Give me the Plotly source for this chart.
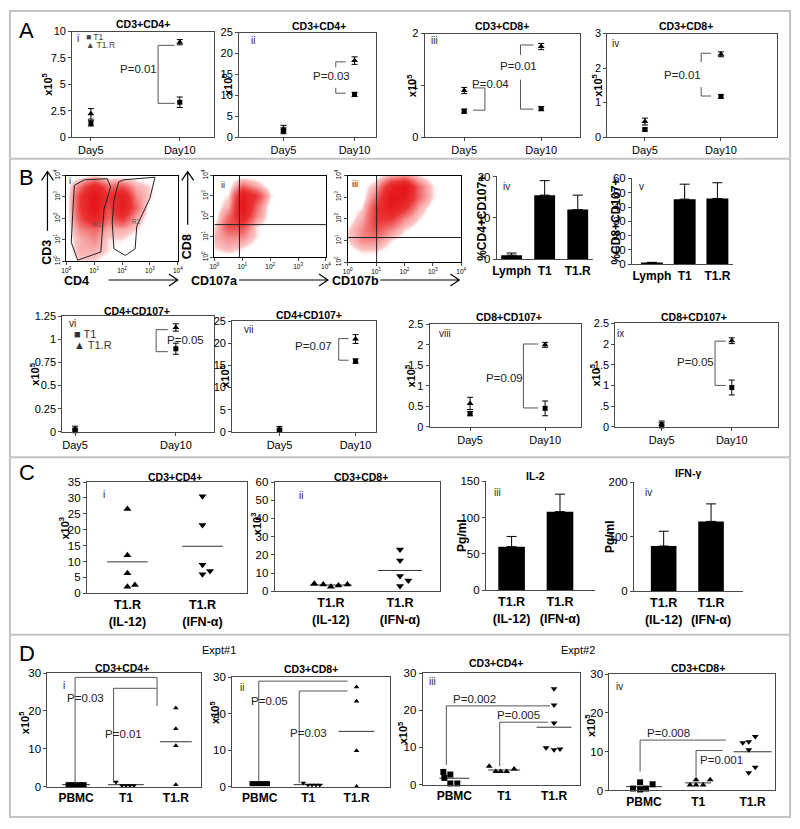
import numpy as np
import plotly.graph_objects as go

W, H = 800, 829
FONT = "Liberation Sans, Arial, Helvetica, sans-serif"
AX = "#4a4a4a"
BR = "#555555"

# ======================= DATA =======================
# ---- Panel A : cell numbers (x10^5), mean and error, Day5 / Day10
day_labels = ["Day5", "Day10"]
A1_T1 = [1.3, 3.3];    A1_T1_err = [0.25, 0.5]
A1_T1R = [2.2, 9.0];   A1_T1R_err = [0.5, 0.25]
A2_T1 = [1.5, 10.2];   A2_T1_err = [0.7, 0.5]
A2_T1R = [2.0, 18.3];  A2_T1R_err = [0.8, 0.9]
A3_T1 = [0.50, 0.55];  A3_T1_err = [0.04, 0.04]
A3_T1R = [0.90, 1.75]; A3_T1R_err = [0.06, 0.06]
A4_T1 = [0.22, 1.18];  A4_T1_err = [0.04, 0.05]
A4_T1R = [0.45, 2.40]; A4_T1R_err = [0.10, 0.07]

# ---- Panel B : flow cytometry (coarse density, log10 scale)
flow_log_bins = [0, 0.5, 1, 1.5, 2, 2.5, 3, 3.5, 4]
flow_i_density = [
    [0, 1, 1, 0, 0, 0, 0, 0, 0],
    [0, 2, 2, 1, 0, 0, 0, 0, 0],
    [0, 2, 3, 1, 1, 0, 0, 0, 0],
    [0, 3, 4, 2, 2, 1, 0, 0, 0],
    [0, 5, 8, 4, 6, 2, 0, 0, 0],
    [0, 6, 10, 5, 9, 4, 0, 0, 0],
    [0, 6, 10, 6, 9, 3, 1, 0, 0],
    [0, 4, 8, 4, 5, 2, 1, 0, 0],
    [0, 0, 1, 0, 0, 0, 0, 0, 0],
]
flow_ii_density = [
    [0, 0, 0, 0, 0, 0, 0, 0, 0],
    [1, 2, 1, 0, 0, 0, 0, 0, 0],
    [2, 3, 3, 1, 0, 0, 0, 0, 0],
    [1, 5, 5, 1, 0, 0, 0, 0, 0],
    [0, 4, 8, 3, 0, 0, 0, 0, 0],
    [0, 2, 10, 4, 0, 0, 0, 0, 0],
    [0, 1, 9, 6, 1, 0, 0, 0, 0],
    [0, 0, 4, 2, 0, 0, 0, 0, 0],
    [0, 0, 0, 0, 0, 0, 0, 0, 0],
]
flow_iii_density = [
    [0, 0, 0, 0, 0, 0, 0, 0, 0],
    [0, 1, 1, 0, 0, 0, 0, 0, 0],
    [1, 3, 3, 1, 0, 0, 0, 0, 0],
    [1, 3, 5, 3, 1, 0, 0, 0, 0],
    [0, 2, 6, 6, 3, 1, 0, 0, 0],
    [0, 1, 6, 9, 6, 2, 0, 0, 0],
    [0, 0, 4, 10, 9, 4, 1, 0, 0],
    [0, 0, 2, 8, 10, 4, 1, 0, 0],
    [0, 0, 0, 2, 3, 1, 0, 0, 0],
]
gate_R1_x = [0.29, 0.65, 1.47, 1.59, 1.35, 1.24, 0.41, 0.18, 0.24, 0.29]
gate_R1_y = [3.54, 3.80, 3.85, 3.47, 2.40, 0.43, 0.05, 0.88, 2.40, 3.54]
gate_R2_x = [1.88, 2.06, 3.18, 3.00, 2.53, 2.47, 2.12, 1.71, 1.65, 1.71, 1.88]
gate_R2_y = [3.70, 3.80, 3.92, 2.94, 1.64, 0.58, 0.27, 0.58, 1.79, 2.86, 3.70]
quad_ii = [0.9, 1.6]
quad_iii = [1.02, 1.14]

# ---- Panel B : % CD107+ bars
bar_groups_B = ["Lymph", "T1", "T1.R"]
B4_CD4 = [1.0, 15.5, 12.0];  B4_CD4_err = [0.5, 3.5, 3.5]
B5_CD8 = [1.0, 45.5, 46.0];  B5_CD8_err = [0.3, 10.5, 11.0]

# ---- Panel B : CD107+ cell numbers (x10^5)
B6_T1 = [0.01, 0.90];  B6_T1_err = [0.03, 0.06]
B6_T1R = [0.03, 1.13]; B6_T1R_err = [0.03, 0.04]
B7_T1 = [0.3, 16.0];   B7_T1_err = [0.5, 0.5]
B7_T1R = [0.6, 21.0];  B7_T1R_err = [0.6, 1.0]
B8_T1 = [0.32, 0.45];  B8_T1_err = [0.05, 0.18]
B8_T1R = [0.57, 2.00]; B8_T1R_err = [0.15, 0.06]
B9_T1 = [0.02, 0.95];  B9_T1_err = [0.08, 0.18]
B9_T1R = [0.06, 2.08]; B9_T1R_err = [0.08, 0.07]

# ---- Panel C
C_groups = ["T1.R<br>(IL-12)", "T1.R<br>(IFN-α)"]
C1_IL12 = [26.5, 12.0, 6.3, 2.1, 2.6]
C1_IFNa = [30.5, 21.5, 9.0, 6.0, 7.0]
C2_IL12 = [4.2, 3.8, 2.5, 3.3, 3.8]
C2_IFNa = [23.0, 17.0, 8.5, 3.0, 6.0]
C3_IL2 = [60, 108];   C3_IL2_err = [14, 24]
C4_IFNg = [83, 128];  C4_IFNg_err = [27, 32]

# ---- Panel D (x10^5)
D_groups = ["PBMC", "T1", "T1.R"]
D1_PBMC = [0.5, 0.5, 0.5, 0.5, 0.5]
D1_T1 = [1.2, 0.3, 0.3, 0.3, 0.3]
D1_T1R = [20.8, 15.3, 10.8, 0.5]
D2_PBMC = [0.8, 0.8, 0.8, 0.8, 0.8]
D2_T1 = [1.0, 0.4, 0.4, 0.4, 0.4]
D2_T1R = [27.3, 23.4, 9.8, 0.0]
D3_PBMC = [3.4, 2.7, 1.8, 0.3, 0.3]
D3_T1 = [4.9, 3.5, 3.5, 3.5, 4.2]
D3_T1R = [25.8, 21.4, 16.6, 9.9, 9.4, 9.6]
D4_PBMC = [2.1, 1.6, 0.5, 0.25, 0.5]
D4_T1 = [2.8, 2.8, 1.4, 1.4, 1.4]
D4_T1R = [12.3, 12.6, 13.9, 10.5, 6.0, 4.6]

# ======================= FIGURE =======================
fig = go.Figure()
LAYOUT = {}
ANN = []
SHAPES = []
_n = [0]


def px(x):
    return x / W


def py(y):
    return 1 - y / H


def make_axes(box, xr, yr, xtv=None, xtt=None, ytv=None, ytt=None, mirror=True,
              xfont=11, yfont=11, xticks="outside", yangle=0, xangle=0, ylen=3):
    _n[0] += 1
    s = "" if _n[0] == 1 else str(_n[0])
    x0, x1, y0, y1 = box
    common = dict(showgrid=False, zeroline=False, showline=True, linecolor=AX,
                  linewidth=1, mirror=mirror, ticks="outside", ticklen=3,
                  tickcolor=AX, tickwidth=1, fixedrange=True, tickmode="array")
    xa = dict(common, domain=[px(x0), px(x1)], range=xr, anchor="y" + s,
              tickvals=xtv, ticktext=xtt, ticks=xticks, tickangle=xangle,
              tickfont=dict(size=xfont, family=FONT, color="black"))
    ya = dict(common, domain=[py(y1), py(y0)], range=yr, anchor="x" + s,
              tickvals=ytv, ticktext=ytt, tickangle=yangle, ticklen=ylen,
              tickfont=dict(size=yfont, family=FONT, color="black"))
    LAYOUT["xaxis" + s] = xa
    LAYOUT["yaxis" + s] = ya
    return "x" + s, "y" + s


def txt(x, y, s, size=11, bold=False, xanchor="center", yanchor="middle",
        angle=0, color="black", xref="paper", yref="paper"):
    if xref == "paper":
        x = px(x)
    if yref == "paper":
        y = py(y)
    if bold:
        s = "<b>" + s + "</b>"
    ANN.append(dict(x=x, y=y, xref=xref, yref=yref, text=s, showarrow=False,
                    xanchor=xanchor, yanchor=yanchor, textangle=angle,
                    font=dict(size=size, family=FONT, color=color)))


def line(xa, ya, xs, ys, color=BR, width=1):
    fig.add_trace(go.Scatter(x=xs, y=ys, mode="lines", xaxis=xa, yaxis=ya,
                             line=dict(color=color, width=width),
                             hoverinfo="skip", showlegend=False, cliponaxis=False))


def pts(xa, ya, xs, ys, symbol, size=6, err=None):
    kw = {}
    if err is not None:
        kw["error_y"] = dict(type="data", array=err, color="black", thickness=1, width=3)
    fig.add_trace(go.Scatter(x=xs, y=ys, mode="markers", xaxis=xa, yaxis=ya,
                             marker=dict(symbol=symbol, size=size, color="black"),
                             hoverinfo="skip", showlegend=False, cliponaxis=False, **kw))


def day_plot(box, xr, yr, ytv, ytt, t1, t1e, t1r, t1re, title, tx, ty, label, lx, ly, ylx):
    xa, ya = make_axes(box, xr, yr, [1, 2], day_labels, ytv, ytt)
    pts(xa, ya, [1, 2], t1r, "triangle-up", 6, t1re)
    pts(xa, ya, [1, 2], t1, "square", 5, t1e)
    txt(tx, ty, title, 10.5, bold=True)
    txt(lx, ly, label, 10, color="#222")
    txt(ylx, (box[2] + box[3]) / 2, "x10<sup>5</sup>", 11, bold=True, angle=-90)
    return xa, ya


def ptext(xa, ya, x, y, s, yanchor="middle", xanchor="center"):
    txt(x, y, s, 11.5, xref=xa, yref=ya, yanchor=yanchor, xanchor=xanchor, color="#222")


def bracket(xa, ya, xv, xe, ytop, ybot):
    line(xa, ya, [xe, xv, xv, xe], [ytop, ytop, ybot, ybot])


# ---------------- Panel A ----------------
txt(22, 25, "A", 22)
xa, ya = day_plot((68, 212, 26, 133), [0.789, 2.389], [0, 10], [0, 2.5, 5, 7.5, 10],
                  ["0", "2.5", "5", "7.5", "10"], A1_T1, A1_T1_err, A1_T1R, A1_T1R_err,
                  "CD3+CD4+", 140, 18, "i", 74, 33, 43)
bracket(xa, ya, 1.756, 1.944, 8.7, 3.2)
ptext(xa, ya, 1.533, 6.5, "P=0.01")
txt(80, 31, "■ T1", 8.5, xanchor="left", color="#444")
txt(80, 40, "▲ T1.R", 8.5, xanchor="left", color="#444")

xa, ya = day_plot((237, 376, 27, 133), [0.375, 2.306], [0, 25], [0, 5, 10, 15, 20, 25],
                  ["0", "5", "10", "15", "20", "25"], A2_T1, A2_T1_err, A2_T1R, A2_T1R_err,
                  "CD3+CD4+", 318, 20, "ii", 251, 35, 225)
line(xa, ya, [1.875, 1.736, 1.736], [18.0, 18.0, 16.7])
line(xa, ya, [1.736, 1.736, 1.875], [11.8, 10.5, 10.5])
ptext(xa, ya, 1.68, 14.7, "P=0.03")

xa, ya = day_plot((425, 582, 28, 133), [0.487, 2.5], [0, 2], [0, 1, 2], ["0", "1", "2"],
                  A3_T1, A3_T1_err, A3_T1R, A3_T1R_err,
                  "CD3+CD8+", 503, 20, "iii", 435, 35, 412)
line(xa, ya, [1.115, 1.269, 1.269, 1.115], [0.95, 0.95, 0.52, 0.52])
ptext(xa, ya, 1.34, 1.02, "P=0.04")
line(xa, ya, [1.897, 1.731, 1.731], [1.78, 1.78, 1.59])
line(xa, ya, [1.731, 1.731, 1.897], [1.11, 0.54, 0.54])
ptext(xa, ya, 1.705, 1.37, "P=0.01")

xa, ya = day_plot((610, 782, 28, 133), [0.506, 2.74], [0, 3], [0, 1, 2, 3], ["0", "1", "2", "3"],
                  A4_T1, A4_T1_err, A4_T1R, A4_T1R_err,
                  "CD3+CD8+", 690, 20, "iv", 618, 38, 600)
line(xa, ya, [1.87, 1.74, 1.74], [2.43, 2.43, 2.17])
line(xa, ya, [1.74, 1.74, 1.87], [1.45, 1.19, 1.19])
ptext(xa, ya, 1.494, 1.79, "P=0.01")

# ---------------- Panel B : flow ----------------
txt(22, 174, "B", 22)
flow_ticks = [0, 1, 2, 3, 4]
flow_tt = ["10<sup>%d</sup>" % k for k in flow_ticks]
FLOW_CS = [[0, "rgba(255,255,255,0)"], [0.05, "rgba(255,255,255,0)"],
           [0.12, "rgba(250,190,190,0.85)"], [0.35, "rgb(242,118,118)"],
           [0.6, "rgb(234,50,50)"], [1, "rgb(228,20,26)"]]


def flow_plot(box, dens, label, lx, ly):
    xa, ya = make_axes(box, [0, 4], [0, 4], flow_ticks, flow_tt, flow_ticks, flow_tt,
                       xfont=6.5, yfont=6.5, yangle=-90)
    LAYOUT["xaxis" + xa[1:]]["linecolor"] = "black"
    LAYOUT["yaxis" + ya[1:]]["linecolor"] = "black"
    fig.add_trace(go.Heatmap(x=flow_log_bins, y=flow_log_bins, z=dens, zmin=0, zmax=10,
                             zsmooth="best", colorscale=FLOW_CS, showscale=False,
                             xaxis=xa, yaxis=ya, hoverinfo="skip"))
    txt(lx, ly, label, 9, color="#222")
    return xa, ya


xa, ya = flow_plot((62, 175, 172, 259), flow_i_density, "i", 66, 178)
line(xa, ya, gate_R1_x, gate_R1_y, color="#222", width=1)
line(xa, ya, gate_R2_x, gate_R2_y, color="#222", width=1)
txt(1.12, 1.72, "R1", 6.5, xref=xa, yref=ya, color="#555")
txt(2.53, 1.87, "R2", 6.5, xref=xa, yref=ya, color="#555")

xa, ya = flow_plot((212, 325, 172, 255), flow_ii_density, "ii", 221, 182)
line(xa, ya, [quad_ii[0], quad_ii[0]], [0, 4], color="#222")
line(xa, ya, [0, 4], [quad_ii[1], quad_ii[1]], color="#222")

xa, ya = flow_plot((347, 462, 172, 260), flow_iii_density, "iii", 354, 181)
line(xa, ya, [quad_iii[0], quad_iii[0]], [0, 4], color="#222")
line(xa, ya, [0, 4], [quad_iii[1], quad_iii[1]], color="#222")


def harrow(x0, x1, y):
    return dict(type="path", xref="paper", yref="paper",
                path="M %f %f L %f %f M %f %f L %f %f L %f %f" % (
                    px(x0), py(y), px(x1), py(y), px(x1 - 9), py(y - 6), px(x1), py(y),
                    px(x1 - 9), py(y + 6)),
                line=dict(color="black", width=1.2))


def varrow(x, y0, y1):
    return dict(type="path", xref="paper", yref="paper",
                path="M %f %f L %f %f M %f %f L %f %f L %f %f" % (
                    px(x), py(y0), px(x), py(y1), px(x - 6), py(y1 + 9), px(x), py(y1),
                    px(x + 6), py(y1 + 9)),
                line=dict(color="black", width=1.2))


SHAPES += [varrow(43, 228, 168), harrow(105, 175, 278), varrow(185, 222, 168),
           harrow(237, 327, 278), harrow(380, 460, 278)]
txt(43, 250, "CD3", 12.5, bold=True, angle=-90)
txt(72, 279, "CD4", 12.5, bold=True)
txt(185, 244, "CD8", 12.5, bold=True, angle=-90)
txt(212, 279, "CD107a", 12.5, bold=True)
txt(355, 279, "CD107b", 12.5, bold=True)


# ---------------- Panel B : bars ----------------
def bar_plot(box, xr, yr, ytv, groups, vals, errs, width, ylab, ylx, label, lx, ly,
             xfont=12):
    xa, ya = make_axes(box, xr, yr, list(range(1, len(groups) + 1)),
                       ["<b>%s</b>" % g for g in groups], ytv, [str(v) for v in ytv],
                       mirror=False, xticks="", xfont=xfont, yfont=11.5)
    fig.add_trace(go.Bar(x=list(range(1, len(groups) + 1)), y=vals, width=width,
                         marker=dict(color="black", line=dict(width=0)),
                         error_y=dict(type="data", array=errs, arrayminus=[0] * len(errs),
                                      symmetric=False, color="black", thickness=1, width=5),
                         xaxis=xa, yaxis=ya, hoverinfo="skip", showlegend=False))
    txt(ylx, (box[2] + box[3]) / 2, ylab, 12, bold=True, angle=-90)
    txt(lx, ly, label, 10, color="#222")
    return xa, ya


bar_plot((498, 595, 173, 257), [0.552, 3.448], [0, 20], [0, 10, 20], bar_groups_B,
         B4_CD4, B4_CD4_err, 0.63, "%CD4+CD107+", 483, "iv", 508, 183)
bar_plot((635, 737, 175, 262), [0.394, 3.47], [0, 60], [0, 10, 20, 30, 40, 50, 60],
         bar_groups_B, B5_CD8, B5_CD8_err, 0.67, "%CD8+CD107+", 619, "v", 645, 183)

# ---------------- Panel B : CD107+ numbers ----------------
xa, ya = day_plot((58, 212, 315, 432), [0.873, 2.382], [0, 1.25],
                  [0, 0.25, 0.5, 0.75, 1, 1.25], ["0", "0.25", "0.5", "0.75", "1", "1.25"],
                  B6_T1, B6_T1_err, B6_T1R, B6_T1R_err,
                  "CD4+CD107+", 134, 309, "vi", 68, 322, 30)
bracket(xa, ya, 1.804, 1.92, 1.107, 0.868)
ptext(xa, ya, 2.10, 1.0, "P=0.05")
txt(68, 333, "■ T1", 11, xanchor="left", color="#333")
txt(68, 344, "▲ T1.R", 11, xanchor="left", color="#333")

xa, ya = day_plot((230, 376, 320, 432), [0.377, 2.273], [0, 25], [0, 5, 10, 15, 20, 25],
                  ["0", "5", "10", "15", "20", "25"], B7_T1, B7_T1_err, B7_T1R, B7_T1R_err,
                  "CD4+CD107+", 308, 314, "vii", 247, 328, 222)
bracket(xa, ya, 1.779, 1.909, 21.1, 16.2)
ptext(xa, ya, 1.442, 19.4, "P=0.07")

xa, ya = day_plot((430, 583, 323, 427), [0.461, 2.474], [0, 2.5],
                  [0, 0.5, 1, 1.5, 2, 2.5], ["0", "0.5", "1", "1.5", "2", "2.5"],
                  B8_T1, B8_T1_err, B8_T1R, B8_T1R_err,
                  "CD8+CD107+", 510, 316, "viii", 446, 332, 410)
bracket(xa, ya, 1.711, 1.908, 2.02, 0.46)
ptext(xa, ya, 1.46, 1.19, "P=0.09")

xa, ya = day_plot((618, 783, 322, 427), [0.338, 2.662], [0, 2.5],
                  [0, 0.5, 1, 1.5, 2, 2.5], ["0", ".5", "1", "1.5", "2", "2.5"],
                  B9_T1, B9_T1_err, B9_T1R, B9_T1R_err,
                  "CD8+CD107+", 698, 316, "ix", 623, 332, 598)
bracket(xa, ya, 1.761, 1.915, 2.07, 1.0)
ptext(xa, ya, 1.479, 1.56, "P=0.05")

# ---------------- Panel C ----------------
txt(22, 473, "C", 22)
C_tt = ["<b>" + g.replace("<br>", "</b><br><b>") + "</b>" for g in C_groups]


def mean_line(xa, ya, c, vals, hw):
    m = float(np.mean(vals))
    line(xa, ya, [c - hw, c + hw], [m, m], color="#333")


def scatter_plot(box, xr, yr, ytv, groups_tt, data, symbols, offsets, sizes, hws,
                 title, tx, ty, label, lx, ly, ylab, ylx, yly, xfont=12.5):
    xa, ya = make_axes(box, xr, yr, list(range(1, len(groups_tt) + 1)), groups_tt,
                       ytv, [str(v) for v in ytv], xticks="", xfont=xfont, yfont=11.5)
    for k, (vals, sym, off, sz, hw) in enumerate(zip(data, symbols, offsets, sizes, hws)):
        c = k + 1
        mean_line(xa, ya, c, vals, hw)
        pts(xa, ya, [c + o for o in off], vals, sym, sz)
    txt(tx, ty, title, 10.5, bold=True)
    txt(lx, ly, label, 10, color="#222")
    txt(ylx, yly, ylab, 11, bold=True, angle=-90)
    return xa, ya


scatter_plot((83, 245, 483, 596), [0.461, 2.592], [0, 35], [0, 5, 10, 15, 20, 25, 30, 35],
             C_tt, [C1_IL12, C1_IFNa], ["triangle-up", "triangle-down"],
             [[0, 0, 0, 0, 0.1], [0, 0, 0, 0, 0.1]], [7, 7], [0.27, 0.27],
             "CD3+CD4+", 172, 478, "i", 100, 496, "x10<sup>3</sup>", 60, 530)
scatter_plot((273, 440, 483, 594), [0.186, 2.571], [0, 60], [0, 10, 20, 30, 40, 50, 60],
             C_tt, [C2_IL12, C2_IFNa], ["triangle-up", "triangle-down"],
             [[-0.24, -0.11, 0, 0.11, 0.24], [0, 0, 0, 0, 0.12]], [7, 7], [0.3, 0.32],
             "CD3+CD8+", 360, 478, "ii", 300, 497, "x10<sup>3</sup>", 255, 525)

bar_plot((487, 597, 482, 593), [0.469, 2.714], [0, 150], [0, 50, 100, 150], C_groups,
         C3_IL2, C3_IL2_err, 0.55, "Pg/ml", 462, "iii", 499, 494, xfont=12.5)
LAYOUT["xaxis%d" % _n[0]]["ticktext"] = C_tt
txt(537, 477, "IL-2", 10.5, bold=True)
bar_plot((637, 747, 483, 594), [0.375, 2.667], [0, 200], [0, 100, 200], C_groups,
         C4_IFNg, C4_IFNg_err, 0.54, "Pg/ml", 612, "iv", 652, 494, xfont=12.5)
LAYOUT["xaxis%d" % _n[0]]["ticktext"] = C_tt
txt(692, 474, "IFN-γ", 10.5, bold=True)

# ---------------- Panel D ----------------
txt(22, 657, "D", 22)
txt(217, 653, "Expt#1", 11)
txt(580, 653, "Expt#2", 11)
D_tt = ["<b>%s</b>" % g for g in D_groups]

xa, ya = scatter_plot((43, 198, 677, 792), [0.426, 3.495], [0, 30], [0, 10, 20, 30], D_tt,
                      [D1_PBMC, D1_T1, D1_T1R], ["square", "triangle-down", "triangle-up"],
                      [[-0.16, -0.08, 0, 0.08, 0.16], [-0.2, -0.08, 0, 0.08, 0.16], [0, 0, 0, 0]],
                      [5, 5, 5], [0.28, 0.36, 0.32],
                      "CD3+CD4+", 118, 672, "i", 60, 689, "x10<sup>5</sup>", 20, 727, xfont=12)
line(xa, ya, [0.98, 0.98, 2.624, 2.624], [0.8, 28.9, 28.9, 21.3])
line(xa, ya, [1.752, 1.752, 2.624], [1.0, 26.0, 26.0])
ptext(xa, ya, 1.198, 23.5, "P=0.03")
ptext(xa, ya, 1.95, 14.0, "P=0.01")

xa, ya = scatter_plot((230, 390, 681, 792), [0.429, 3.694], [0, 30], [0, 10, 20, 30], D_tt,
                      [D2_PBMC, D2_T1, D2_T1R], ["square", "triangle-down", "triangle-up"],
                      [[-0.16, -0.08, 0, 0.08, 0.16], [-0.1, 0, 0.08, 0.16, 0.24], [0, 0, 0, 0]],
                      [5, 5, 5], [0.2, 0.3, 0.37],
                      "CD3+CD8+", 310, 673, "ii", 240, 692, "x10<sup>5</sup>", 212, 717, xfont=12)
line(xa, ya, [0.98, 0.98, 2.816], [1.5, 28.9, 28.9])
line(xa, ya, [1.816, 1.816, 2.816], [1.0, 26.2, 26.2])
ptext(xa, ya, 1.204, 23.5, "P=0.05")
ptext(xa, ya, 2.0, 14.8, "P=0.03")

xa, ya = scatter_plot((423, 582, 677, 790), [0.366, 3.515], [0, 30], [0, 10, 20, 30], D_tt,
                      [D3_PBMC, D3_T1, D3_T1R], ["square", "triangle-up", "triangle-down"],
                      [[-0.22, -0.08, -0.2, -0.08, 0.06], [-0.3, -0.17, -0.07, 0.05, 0.2],
                       [0, 0, 0, -0.16, 0, 0.12]],
                      [6, 6, 6], [0.3, 0.32, 0.35],
                      "CD3+CD4+", 497, 667, "iii", 433, 685, "x10<sup>5</sup>", 403, 737, xfont=12)
line(xa, ya, [0.84, 0.84, 2.92], [5.3, 21.2, 21.2])
line(xa, ya, [1.91, 1.91, 2.88], [4.9, 16.8, 16.8])
ptext(xa, ya, 1.41, 21.0, "P=0.002", yanchor="bottom")
ptext(xa, ya, 2.29, 16.6, "P=0.005", yanchor="bottom")

xa, ya = scatter_plot((612, 780, 678, 796), [0.364, 3.418], [0, 30], [0, 10, 20, 30], D_tt,
                      [D4_PBMC, D4_T1, D4_T1R], ["square", "triangle-up", "triangle-down"],
                      [[-0.07, 0.16, -0.2, -0.07, 0.04], [-0.04, 0.22, -0.15, -0.04, 0.09],
                       [-0.18, -0.07, 0.05, -0.07, 0.05, -0.07]],
                      [6, 6, 6], [0.33, 0.24, 0.35],
                      "CD3+CD8+", 702, 672, "iv", 622, 690, "x10<sup>5</sup>", 593, 730, xfont=12)
line(xa, ya, [0.93, 0.93, 2.51], [4.9, 13.0, 13.0])
line(xa, ya, [1.96, 1.96, 2.45], [3.6, 10.3, 10.3])
ptext(xa, ya, 1.45, 12.8, "P=0.008", yanchor="bottom")
ptext(xa, ya, 2.43, 7.9, "P=0.001")

# ---------------- panel frames ----------------
FR = dict(color="#c4c4c4", width=2)
SHAPES.append(dict(type="rect", xref="paper", yref="paper", x0=px(5), x1=px(795),
                   y0=py(823), y1=py(5), line=FR))
for yy in (155, 458, 638):
    SHAPES.append(dict(type="line", xref="paper", yref="paper", x0=px(5), x1=px(795),
                       y0=py(yy), y1=py(yy), line=FR))

fig.update_layout(width=W, height=H, margin=dict(l=0, r=0, t=0, b=0),
                  paper_bgcolor="white", plot_bgcolor="rgba(0,0,0,0)", showlegend=False,
                  font=dict(family=FONT, color="black"),
                  annotations=ANN, shapes=SHAPES, **LAYOUT)

fig.write_html("out.html", config={"displayModeBar": False},
               post_script="document.body.style.margin='0px';")
